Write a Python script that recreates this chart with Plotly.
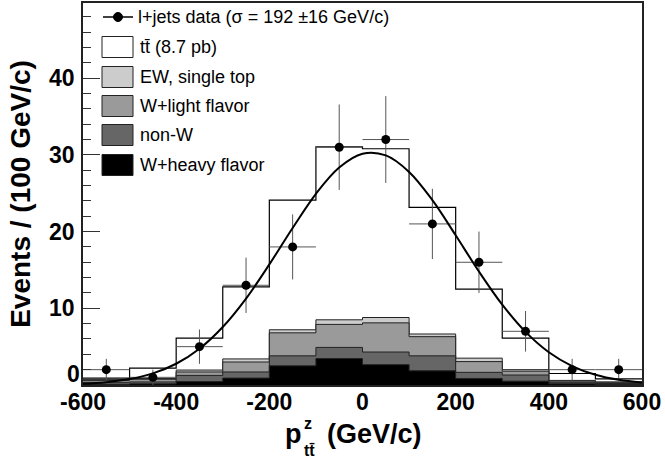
import plotly.graph_objects as go

# ---------------- data ----------------
bin_edges = [-600, -500, -400, -300, -200, -100, 0, 100, 200, 300, 400, 500, 600]
bin_centers = [-550, -450, -350, -250, -150, -50, 50, 150, 250, 350, 450, 550]

data_counts = [2, 1, 5, 13, 18, 31, 32, 21, 16, 7, 2, 2]
data_errors = [1.41, 1.0, 2.24, 3.61, 4.24, 5.57, 5.66, 4.58, 4.0, 2.65, 1.41, 1.41]

# stacked components (per-bin heights), bottom to top
w_heavy = [0.10, 0.15, 0.45, 0.90, 2.50, 3.45, 2.65, 1.85, 0.85, 0.50, 0.15, 0.05]
non_w   = [0.25, 0.25, 0.80, 0.80, 1.30, 1.45, 1.65, 1.95, 0.80, 0.80, 0.15, 0.15]
w_light = [0.25, 0.35, 0.45, 1.30, 3.00, 3.00, 3.80, 2.50, 1.40, 0.50, 0.20, 0.15]
ew_top  = [0.10, 0.10, 0.25, 0.40, 0.40, 0.60, 0.70, 0.35, 0.45, 0.20, 0.10, 0.05]
ttbar   = [0.20, 1.35, 4.15, 9.40, 16.90, 22.55, 22.00, 16.50, 9.00, 4.10, 0.90, 0.40]

# Gaussian fit curve
fit_x = [-600, -550, -500, -450, -400, -350, -300, -250, -200, -150, -100, -50, 0,
         50, 100, 150, 200, 250, 300, 350, 400, 450, 500, 550, 600]
fit_y = [0.17, 0.37, 0.77, 1.52, 2.77, 4.73, 7.56, 11.27, 15.72, 20.47, 24.93, 28.35, 30.14,
         29.93, 27.78, 24.10, 19.52, 14.79, 10.47, 6.92, 4.27, 2.47, 1.33, 0.67, 0.32]

x_tickvals = [-600, -400, -200, 0, 200, 400, 600]
x_ticktext = ["-600", "-400", "-200", "0", "200", "400", "600"]
y_tickvals = [0, 10, 20, 30, 40]
y_ticktext = ["", "10", "20", "30", "40"]   # the "0" is placed slightly raised, as in the original

legend_labels = ["l+jets data (\u03c3 = 192 \u00b116 GeV/c)", "tt\u0304 (8.7 pb)",
                 "EW, single top", "W+light flavor", "non-W", "W+heavy flavor"]

FONT = "Liberation Sans"

# ---------------- figure ----------------
fig = go.Figure()

components = [w_heavy, non_w, w_light, ew_top, ttbar]
colors = ["#000000", "#666666", "#9a9a9a", "#cccccc", "#ffffff"]
names = ["W+heavy flavor", "non-W", "W+light flavor", "EW, single top", "tt\u0304"]

cum = []
running = [0.0] * len(bin_centers)
for comp in components:
    running = [a + b for a, b in zip(running, comp)]
    cum.append(list(running))

# draw top (total) first so lower stacks cover it
for i in reversed(range(len(components))):
    y = cum[i] + [cum[i][-1]]
    fig.add_trace(go.Scatter(
        x=bin_edges, y=y, mode="lines", line_shape="hv",
        line=dict(color="#000000" if i == 4 else "#222222", width=1.2 if i == 4 else 1),
        fill="tozeroy", fillcolor=colors[i], name=names[i], hoverinfo="skip"))

fig.add_trace(go.Scatter(
    x=bin_centers, y=data_counts, mode="markers", name="data",
    marker=dict(symbol="circle", size=9, color="black"),
    error_y=dict(type="data", array=data_errors, color="#555555", thickness=1, width=0),
    error_x=dict(type="constant", value=50, color="#555555", thickness=1, width=0)))

fig.add_trace(go.Scatter(
    x=fit_x, y=fit_y, mode="lines", line_shape="spline",
    line=dict(color="black", width=2), name="fit"))

# ---------------- layout ----------------
L, R, T, B = 83, 642, 3, 385
W, H = 665, 463


def px(xp):
    return (xp - L) / (R - L)


def py(yp):
    return (B - yp) / (B - T)


shapes = []
annotations = []
# legend: data entry
shapes.append(dict(type="line", xref="paper", yref="paper", x0=px(103), x1=px(133),
                   y0=py(17), y1=py(17), line=dict(color="black", width=1.5)))
shapes.append(dict(type="circle", xref="paper", yref="paper", x0=px(113.5), x1=px(122.5),
                   y0=py(21.5), y1=py(12.5), fillcolor="black", line=dict(color="black", width=1)))
annotations.append(dict(xref="paper", yref="paper", x=px(136), y=py(17), xanchor="left",
                        yanchor="middle", text=legend_labels[0], showarrow=False,
                        font=dict(family=FONT, size=18, color="black")))
rows = [47, 77, 106, 135, 165]
sw_colors = ["#ffffff", "#cccccc", "#9a9a9a", "#666666", "#000000"]
for k, c in enumerate(rows):
    shapes.append(dict(type="rect", xref="paper", yref="paper", x0=px(102), x1=px(133),
                       y0=py(c + 10.5), y1=py(c - 10.5), fillcolor=sw_colors[k],
                       line=dict(color="#222222", width=1)))
    annotations.append(dict(xref="paper", yref="paper", x=px(138), y=py(c), xanchor="left",
                            yanchor="middle", text=legend_labels[k + 1], showarrow=False,
                            font=dict(family=FONT, size=18, color="black")))

tickfont = dict(family=FONT, size=23, color="black", weight="bold")

# raised "0" label of the y axis
annotations.append(dict(xref="paper", yref="paper", x=px(81), y=py(374), xanchor="right",
                        yanchor="middle", text="0", showarrow=False, font=tickfont, borderpad=0))

# x axis title built from pieces (stacked super/subscript)
bold = dict(family=FONT, size=27, color="black", weight="bold")
small_bold = dict(family=FONT, size=16, color="black", weight="bold")
annotations.append(dict(xref="paper", yref="paper", x=px(303), y=py(434), xanchor="right",
                        yanchor="middle", text="p", showarrow=False, font=bold, borderpad=0))
annotations.append(dict(xref="paper", yref="paper", x=px(303), y=py(423), xanchor="left",
                        yanchor="middle", text="z", showarrow=False, font=small_bold, borderpad=0))
annotations.append(dict(xref="paper", yref="paper", x=px(303), y=py(451), xanchor="left",
                        yanchor="middle", text="tt\u0304", showarrow=False, font=small_bold,
                        borderpad=0))
annotations.append(dict(xref="paper", yref="paper", x=px(326), y=py(434), xanchor="left",
                        yanchor="middle", text="(GeV/c)", showarrow=False, font=bold, borderpad=0))

fig.update_layout(
    template="none",
    width=W, height=H,
    font=dict(family=FONT, color="black"),
    margin=dict(l=L, r=W - R, t=T, b=H - B, pad=0, autoexpand=False),
    paper_bgcolor="white", plot_bgcolor="white",
    showlegend=False,
    shapes=shapes, annotations=annotations,
    xaxis=dict(range=[-600, 600], tickvals=x_tickvals, ticktext=x_ticktext,
               ticks="", showgrid=False, zeroline=False, automargin=False,
               showline=True, linecolor="#222222", linewidth=1.5, mirror=True,
               tickfont=tickfont, ticklabelstandoff=-4, ticklabeloverflow="allow"),
    yaxis=dict(range=[0, 49.8], tickvals=y_tickvals, ticktext=y_ticktext,
               ticks="inside", ticklen=17, tickwidth=1, tickcolor="#333333",
               minor=dict(dtick=2, ticks="inside", ticklen=8, tickwidth=1, tickcolor="#333333"),
               showgrid=False, zeroline=False, automargin=False,
               showline=True, linecolor="#222222", linewidth=1.5, mirror=True,
               tickfont=tickfont, ticklabelstandoff=2,
               title=dict(text="Events / (100 GeV/c)", standoff=10,
                          font=dict(family=FONT, size=28, color="black", weight="bold"))),
)

# remove the browser's default 8px page margin so the figure sits at the window origin
fig.write_html("out.html", config={"displayModeBar": False},
               post_script="document.body.style.margin='0';document.body.style.padding='0';")
